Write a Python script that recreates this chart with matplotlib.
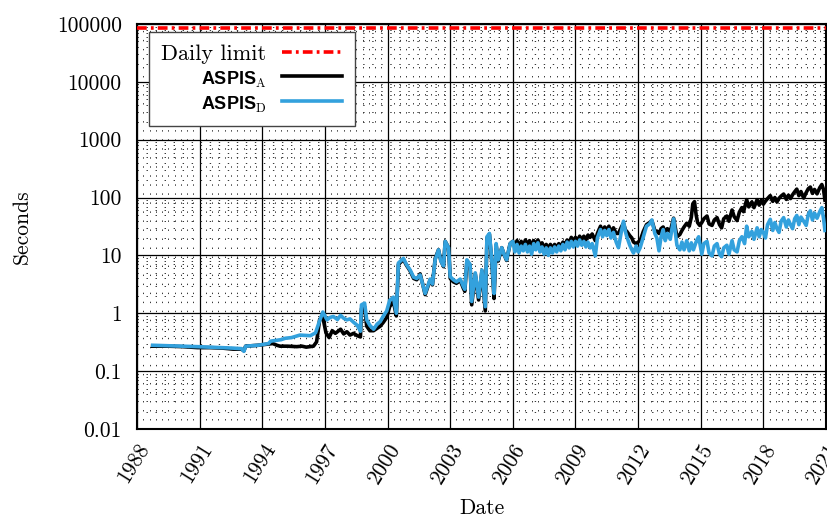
import matplotlib
matplotlib.use("Agg")
import matplotlib.pyplot as plt
from matplotlib.ticker import FixedLocator, FixedFormatter, NullFormatter

plt.rcParams["font.family"] = "serif"
plt.rcParams["font.serif"] = ["cmr10", "DejaVu Serif"]
plt.rcParams["mathtext.fontset"] = "custom"
plt.rcParams["mathtext.rm"] = "cmr10"
plt.rcParams["mathtext.bf"] = "Liberation Sans:bold"
plt.rcParams["lines.scale_dashes"] = False
plt.rcParams["xtick.labelsize"] = 15.5
plt.rcParams["ytick.labelsize"] = 15.5

DAILY_LIMIT = 86400

# ASPIS_D (blue), decimal years / seconds
D_YEARS = [1988.75, 1989.5, 1990.2, 1990.9, 1991.5, 1992.1, 1992.6, 1993.0, 1993.12, 1993.2,
           1993.8, 1994.3, 1994.4, 1994.9, 1995.1, 1995.4, 1995.8, 1996.3, 1996.55, 1996.75,
           1996.9, 1997.1, 1997.25, 1997.4, 1997.6, 1997.75, 1997.9, 1998.05, 1998.2, 1998.37,
           1998.55, 1998.7, 1998.75, 1998.9, 1999.0, 1999.15, 1999.33, 1999.5, 1999.65, 1999.8,
           1999.96, 2000.1, 2000.28, 2000.42, 2000.52, 2000.76, 2000.9, 2001.08, 2001.25, 2001.4,
           2001.56, 2001.7, 2001.8, 2001.9, 2002.04, 2002.15, 2002.28, 2002.44, 2002.55, 2002.68,
           2002.76, 2002.92, 2003.0, 2003.15, 2003.3, 2003.48, 2003.63, 2003.7, 2003.8, 2003.95,
           2004.03, 2004.2, 2004.36, 2004.52, 2004.68, 2004.76, 2004.88, 2005.0, 2005.1, 2005.2,
           2005.3, 2005.47, 2005.6, 2005.7, 2005.87, 2006.0,
           2006.1, 2006.2, 2006.3, 2006.4, 2006.5, 2006.6, 2006.7, 2006.8, 2006.9, 2007.0,
           2007.1, 2007.2, 2007.3, 2007.4, 2007.5, 2007.6, 2007.7, 2007.8, 2007.9, 2008.0,
           2008.1, 2008.2, 2008.3, 2008.4, 2008.5, 2008.6, 2008.7, 2008.8, 2008.9, 2009.0,
           2009.1, 2009.2, 2009.3, 2009.4, 2009.5, 2009.6, 2009.7, 2009.8, 2009.95, 2010.05,
           2010.2, 2010.3, 2010.4, 2010.5, 2010.6, 2010.7, 2010.82, 2010.95, 2011.06, 2011.2,
           2011.3, 2011.4, 2011.46, 2011.6, 2011.7, 2011.78, 2011.9, 2012.0, 2012.1, 2012.25,
           2012.4, 2012.55, 2012.66, 2012.8, 2012.9, 2013.0, 2013.1, 2013.2, 2013.3, 2013.4,
           2013.54, 2013.7, 2013.86, 2014.0, 2014.1, 2014.2, 2014.33, 2014.45, 2014.55, 2014.65,
           2014.8, 2014.9, 2015.05, 2015.15, 2015.3, 2015.4, 2015.54, 2015.65, 2015.78, 2015.9,
           2016.0, 2016.1, 2016.25, 2016.35, 2016.5, 2016.6, 2016.74, 2016.85, 2016.97, 2017.1,
           2017.2, 2017.3, 2017.45, 2017.55, 2017.7, 2017.8, 2017.9, 2018.0, 2018.1, 2018.2,
           2018.33, 2018.45, 2018.55, 2018.65, 2018.75, 2018.85, 2018.97, 2019.1, 2019.2, 2019.3,
           2019.4, 2019.5, 2019.6, 2019.7, 2019.8, 2019.93, 2020.05, 2020.15, 2020.25, 2020.35,
           2020.45, 2020.57, 2020.7, 2020.8, 2020.88, 2020.95]
D_VALS = [0.28, 0.275, 0.27, 0.265, 0.26, 0.255, 0.25, 0.245, 0.22, 0.27,
          0.28, 0.30, 0.33, 0.35, 0.37, 0.38, 0.42, 0.41, 0.46, 0.75,
          1.05, 0.77, 0.85, 0.88, 0.78, 0.92, 0.82, 0.77, 0.8, 0.70,
          0.62, 0.49, 1.4, 1.5, 0.77, 0.62, 0.53, 0.65, 0.72, 0.9,
          1.1, 1.67, 1.9, 1.0, 7.4, 8.9, 7.0, 5.6, 4.2, 4.0,
          4.6, 3.0, 2.2, 2.8, 3.9, 3.2, 8.4, 12.5, 8.0, 6.6,
          17.5, 13.6, 4.3, 3.8, 3.5, 3.9, 2.9, 2.6, 8.4, 7.0,
          1.6, 5.0, 1.9, 5.6, 1.3, 21, 24, 7.4, 2.2, 16,
          8.4, 13.6, 10, 8.4, 16, 17.5,
          11.5, 15.5, 11, 14.5, 12, 15.5, 11.5, 14.5, 10.5, 16,
          12.5, 16.5, 11.5, 14, 10.5, 13.5, 10, 13.5, 11, 14,
          11.5, 14.5, 12, 15.5, 12.5, 17, 13.5, 17.5, 14, 17.5,
          14.5, 18.5, 15, 17.5, 14, 17, 13.5, 16, 9.8, 20,
          28, 21, 27, 22, 28, 20, 25, 17, 13.6, 26,
          39, 25, 21, 15, 12.5, 11, 14.5, 11.5, 13.6, 21,
          32, 35, 41, 24, 20, 12, 21, 28, 18, 24,
          19, 43, 15, 12.5, 17, 12.5, 18, 12, 16.5, 12.5,
          18, 21, 10.5, 16, 17.5, 11, 9.8, 14.5, 16, 10.5,
          9.5, 13.5, 15, 10.5, 18, 12.5, 11.5, 18, 21, 16,
          32, 21, 26, 19, 30, 21, 28, 25, 20, 34,
          42, 27, 37, 29, 25, 39, 45, 31, 41, 34,
          29, 43, 49, 34, 46, 39, 33, 51, 59, 41,
          54, 44, 57, 67, 44, 27]

# ASPIS_A (black)
A_YEARS = [1988.75, 1989.5, 1990.2, 1990.9, 1991.5, 1992.1, 1992.6, 1993.0, 1993.12, 1993.2,
           1993.8, 1994.3, 1994.5, 1994.7, 1994.85, 1995.2, 1995.65, 1995.9, 1996.1, 1996.45,
           1996.6, 1996.75, 1996.9, 1997.05, 1997.2, 1997.35, 1997.5, 1997.75, 1997.9, 1998.05,
           1998.2, 1998.37, 1998.55, 1998.7, 1998.75, 1998.9, 1999.0, 1999.15, 1999.33, 1999.5,
           1999.65, 1999.8, 1999.96, 2000.1, 2000.28, 2000.42, 2000.52, 2000.76, 2000.9, 2001.08,
           2001.25, 2001.4, 2001.56, 2001.7, 2001.8, 2001.9, 2002.04, 2002.15, 2002.28, 2002.44,
           2002.55, 2002.68, 2002.76, 2002.92, 2003.0, 2003.15, 2003.3, 2003.48, 2003.63, 2003.7,
           2003.8, 2003.95, 2004.03, 2004.2, 2004.36, 2004.52, 2004.68, 2004.76, 2004.88, 2005.0,
           2005.1, 2005.2, 2005.3, 2005.47, 2005.6, 2005.7, 2005.87, 2006.0,
           2006.1, 2006.2, 2006.3, 2006.4, 2006.5, 2006.6, 2006.7, 2006.8, 2006.9, 2007.0,
           2007.1, 2007.2, 2007.3, 2007.4, 2007.5, 2007.6, 2007.7, 2007.8, 2007.9, 2008.0,
           2008.1, 2008.2, 2008.3, 2008.4, 2008.5, 2008.6, 2008.7, 2008.8, 2008.9, 2009.0,
           2009.1, 2009.2, 2009.3, 2009.4, 2009.5, 2009.6, 2009.7, 2009.8, 2009.95, 2010.05,
           2010.2, 2010.3, 2010.4, 2010.5, 2010.6, 2010.7, 2010.82, 2010.95, 2011.06, 2011.2,
           2011.3, 2011.4, 2011.46, 2011.6, 2011.7, 2011.78, 2011.9, 2012.0, 2012.1, 2012.25,
           2012.4, 2012.55, 2012.66, 2012.8, 2012.9, 2013.0, 2013.1, 2013.2, 2013.3, 2013.4,
           2013.54, 2013.7, 2013.86, 2014.0, 2014.1, 2014.2, 2014.33, 2014.45, 2014.55, 2014.62,
           2014.7, 2014.78, 2014.85, 2014.95, 2015.05, 2015.15, 2015.3, 2015.4, 2015.54, 2015.65,
           2015.78, 2015.9, 2016.0, 2016.1, 2016.25, 2016.35, 2016.5, 2016.6, 2016.74, 2016.85,
           2016.97, 2017.05, 2017.2, 2017.3, 2017.45, 2017.55, 2017.7, 2017.8, 2017.9, 2018.0,
           2018.1, 2018.2, 2018.33, 2018.45, 2018.55, 2018.65, 2018.75, 2018.85, 2018.97, 2019.1,
           2019.2, 2019.3, 2019.4, 2019.5, 2019.6, 2019.7, 2019.8, 2019.93, 2020.05, 2020.15,
           2020.25, 2020.35, 2020.45, 2020.57, 2020.7, 2020.8, 2020.88, 2020.95]
A_VALS = [0.27, 0.27, 0.265, 0.255, 0.255, 0.25, 0.24, 0.24, 0.225, 0.27,
          0.28, 0.295, 0.30, 0.28, 0.27, 0.27, 0.265, 0.27, 0.26, 0.27,
          0.32, 0.79, 0.85, 0.46, 0.38, 0.5, 0.45, 0.53, 0.44, 0.48,
          0.42, 0.45, 0.41, 0.39, 1.2, 1.3, 0.6, 0.5, 0.5, 0.55,
          0.6, 0.7, 0.85, 1.3, 1.6, 0.9, 7.0, 8.5, 6.8, 5.4,
          4.0, 3.8, 4.8, 3.0, 2.1, 2.7, 3.8, 3.1, 8.8, 12.5,
          8.2, 6.4, 17.5, 13.6, 4.0, 3.5, 3.3, 3.7, 2.7, 2.4,
          8.0, 6.8, 1.4, 4.8, 1.7, 5.4, 1.1, 20, 23, 7.0,
          1.8, 15, 8.0, 13.6, 10, 8.2, 16, 17.5,
          14.5, 18, 14, 17.5, 14.5, 18.5, 15.5, 18, 14, 18,
          15.5, 18.5, 15, 16.5, 13.5, 15.5, 13, 15.5, 13, 15.5,
          13.5, 16, 14, 17, 15, 18.5, 16.5, 20.5, 17.5, 20.5,
          18, 21.5, 18.5, 21.5, 18.5, 22.5, 20.5, 23.5, 18, 24,
          32, 25, 31, 27, 32, 25, 30, 24, 24, 31,
          36, 27, 26, 22, 20, 17, 16, 17, 18, 26,
          34, 37, 40, 27, 26, 24, 29, 31, 25, 29,
          26, 44, 21, 23, 27, 31, 36, 32, 46, 78,
          85, 50, 37, 33, 37, 43, 48, 35, 33, 41,
          45, 34, 30, 43, 48, 39, 61, 47, 40, 56,
          67, 57, 92, 69, 84, 67, 92, 74, 90, 77,
          87, 96, 108, 86, 100, 84, 97, 106, 115, 93,
          110, 96, 112, 126, 140, 108, 127, 98, 122, 142,
          152, 118, 138, 116, 148, 168, 138, 90]

X_TICKS = list(range(1988, 2022, 3))
X_TICK_LABELS = [str(t) for t in X_TICKS]
Y_TICKS = [0.01, 0.1, 1, 10, 100, 1000, 10000, 100000]
Y_TICK_LABELS = ["0.01", "0.1", "1", "10", "100", "1000", "10000", "100000"]

C_BLUE = "#33A1DD"
C_RED = "#FF0000"
FS = 15.5

fig = plt.figure(figsize=(8.27, 5.19), dpi=100)
ax = fig.add_axes([0.1657, 0.1734, 0.8331, 0.7804])

ax.axhline(DAILY_LIMIT, color=C_RED, lw=2.6, dashes=(7, 3, 2, 3), label="Daily limit", zorder=4)
ax.plot(A_YEARS, A_VALS, color="black", lw=2.6, label=r"$\mathbf{ASPIS}_{\mathrm{A}}$", zorder=3)
ax.plot(D_YEARS, D_VALS, color=C_BLUE, lw=2.6, label=r"$\mathbf{ASPIS}_{\mathrm{D}}$", zorder=3)

ax.set_yscale("log")
ax.set_ylim(0.01, 100000)
ax.set_xlim(1988, 2021)

ax.xaxis.set_major_locator(FixedLocator(X_TICKS))
ax.xaxis.set_major_formatter(FixedFormatter(X_TICK_LABELS))
ax.xaxis.set_minor_locator(FixedLocator([1988 + 0.3 * i for i in range(111)]))
ax.yaxis.set_major_locator(FixedLocator(Y_TICKS))
ax.yaxis.set_major_formatter(FixedFormatter(Y_TICK_LABELS))
ax.yaxis.set_minor_formatter(NullFormatter())

ax.tick_params(which="both", length=0)
ax.tick_params(axis="x", pad=8)
ax.tick_params(axis="y", pad=11)
for lab in ax.get_xticklabels():
    lab.set_rotation(58)
    lab.set_ha("right")
    lab.set_va("top")
    lab.set_rotation_mode("anchor")
    lab.set_fontsize(FS)
for lab in ax.get_yticklabels():
    lab.set_fontsize(FS)

ax.grid(True, which="major", color="black", lw=0.9, zorder=0)
ax.grid(True, which="minor", color="#333333", lw=0.7, linestyle=(0, (1, 5.5)), zorder=0)
ax.set_axisbelow(True)
for s in ax.spines.values():
    s.set_linewidth(1.5)

ax.set_xlabel("Date", fontsize=FS, labelpad=8)
ax.set_ylabel("Seconds", fontsize=FS, labelpad=18)

leg = ax.legend(loc="upper left", bbox_to_anchor=(0.0174, 0.980), borderaxespad=0,
                markerfirst=False, fancybox=False, framealpha=1, edgecolor="#444444",
                fontsize=16, handlelength=2.7, handletextpad=0.72, labelspacing=0.2,
                borderpad=0.55)
leg.get_frame().set_linewidth(1.0)
for t in leg.get_texts()[1:]:
    t.set_fontsize(13)

fig.savefig("out.png", dpi=100)
